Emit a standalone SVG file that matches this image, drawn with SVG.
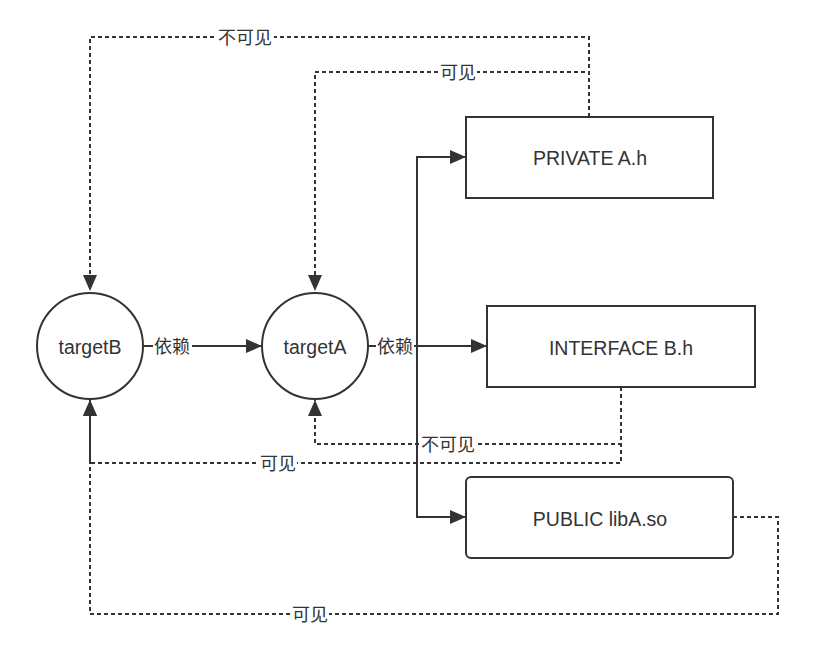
<svg xmlns="http://www.w3.org/2000/svg" width="816" height="652" viewBox="0 0 816 652">
<style>
  .node { fill: #fff; stroke: #333; stroke-width: 2; }
  .txt { font-family: "Liberation Sans", "Noto Sans CJK SC", sans-serif; font-size: 18px; fill: #333; text-anchor: middle; dominant-baseline: central; }
  .ntxt { font-size: 19.5px; }
  .solid { fill: none; stroke: #333; stroke-width: 2; }
  .dash { fill: none; stroke: #333; stroke-width: 2; stroke-dasharray: 4 3; }
  .lblbg { fill: #fff; }
</style>
<defs>
  <marker id="arr" markerUnits="userSpaceOnUse" markerWidth="18" markerHeight="14" refX="16" refY="7" orient="auto">
    <path d="M0,0 L16,7 L0,14 Z" fill="#333"/>
  </marker>
</defs>
<rect width="816" height="652" fill="#fff"/>
<g id="connectors">
  <path class="dash" d="M589,117 V37 H90 V291" marker-end="url(#arr)"/>
  <path class="dash" d="M589,117 V72 H315 V291" marker-end="url(#arr)"/>
  <path class="dash" d="M621,387 V444 H315 V400" marker-end="url(#arr)"/>
  <path class="dash" d="M621,387 V463 H90 V400" marker-end="url(#arr)"/>
  <path class="dash" d="M733,517 H778 V614 H90 V400" marker-end="url(#arr)"/>
  <path class="solid" d="M143,346 H262" marker-end="url(#arr)"/>
  <path class="solid" d="M368,346 H487" marker-end="url(#arr)"/>
  <path class="solid" d="M417,346 V157 H466" marker-end="url(#arr)"/>
  <path class="solid" d="M417,346 V517 H466" marker-end="url(#arr)"/>
  <rect class="lblbg" x="216" y="27" width="58" height="20"/>
  <text class="txt" x="245" y="38">不可见</text>
  <rect class="lblbg" x="439" y="62" width="38" height="20"/>
  <text class="txt" x="458" y="73">可见</text>
  <rect class="lblbg" x="153" y="336" width="39" height="20"/>
  <text class="txt" x="172" y="347">依赖</text>
  <rect class="lblbg" x="376" y="336" width="38" height="20"/>
  <text class="txt" x="395" y="347">依赖</text>
  <rect class="lblbg" x="420" y="434" width="57" height="20"/>
  <text class="txt" x="448" y="445">不可见</text>
  <rect class="lblbg" x="259" y="453" width="38" height="20"/>
  <text class="txt" x="278" y="464">可见</text>
  <rect class="lblbg" x="291" y="604" width="38" height="20"/>
  <text class="txt" x="310" y="615">可见</text>
</g>
<g id="targetB">
  <circle class="node" cx="90" cy="346" r="53"/>
  <text class="txt ntxt" x="90" y="347">targetB</text>
</g>
<g id="targetA">
  <circle class="node" cx="315" cy="346" r="53"/>
  <text class="txt ntxt" x="315" y="347">targetA</text>
</g>
<g id="private">
  <rect class="node" x="466" y="117" width="247" height="81"/>
  <text class="txt ntxt" x="590" y="158">PRIVATE A.h</text>
</g>
<g id="interface">
  <rect class="node" x="487" y="306" width="268" height="81"/>
  <text class="txt ntxt" x="621" y="348">INTERFACE B.h</text>
</g>
<g id="public">
  <rect class="node" x="466" y="477" width="267" height="81" rx="5"/>
  <text class="txt ntxt" x="600" y="519">PUBLIC libA.so</text>
</g>
</svg>
